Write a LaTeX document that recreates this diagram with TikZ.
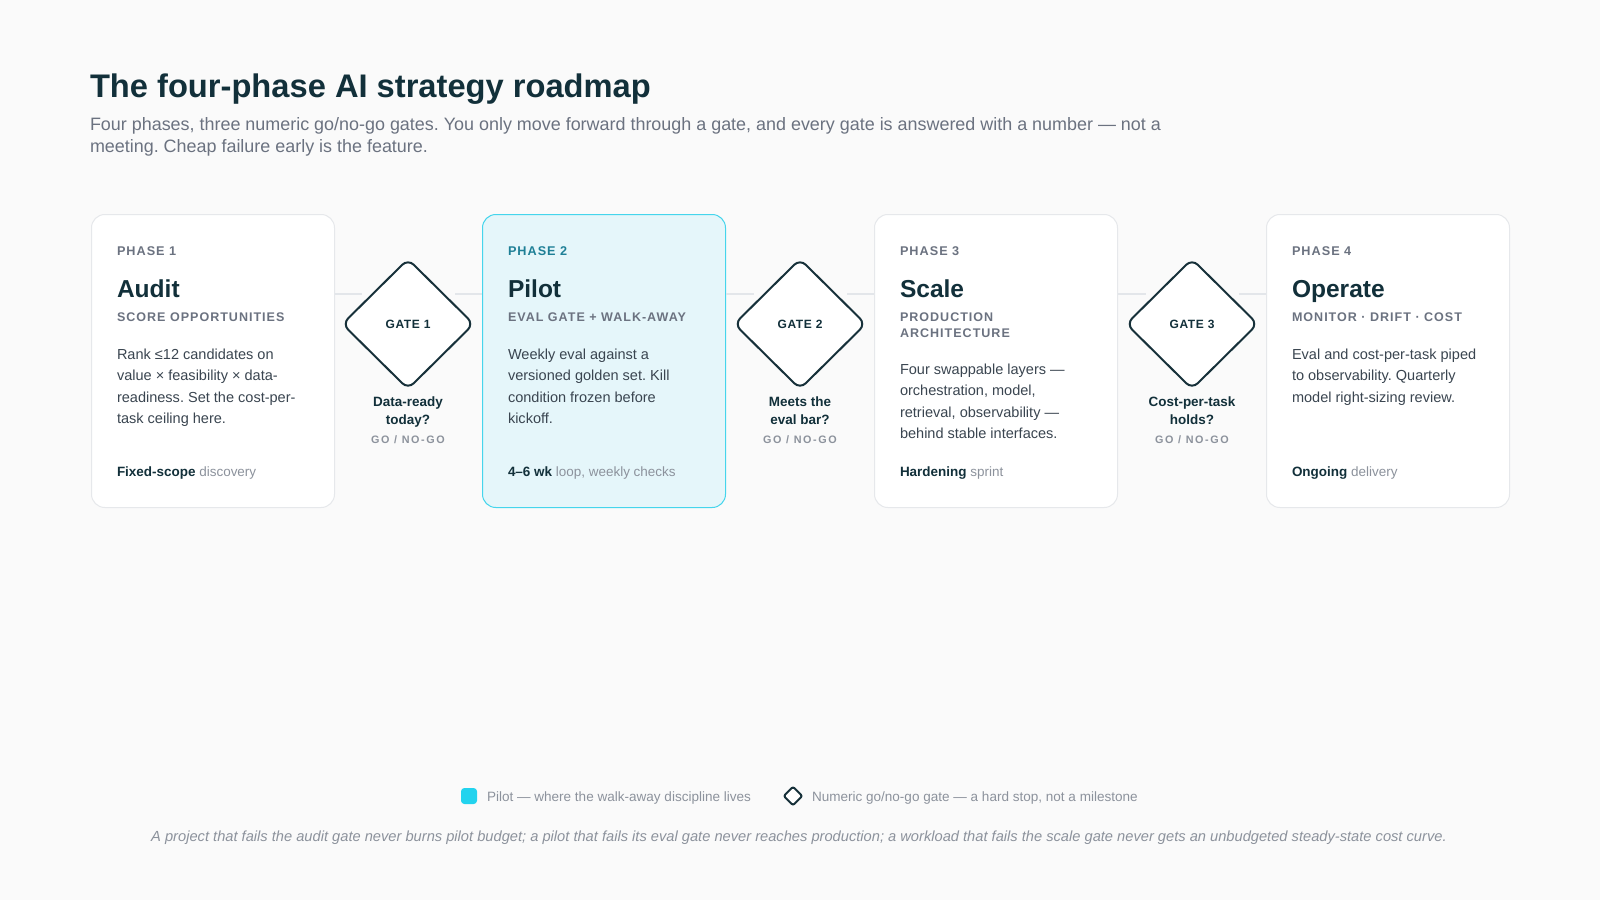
\documentclass[tikz,border=0pt]{standalone}
\usepackage{fontspec}
\setmainfont{Liberation Sans}
\newfontfamily\spacedfont[LetterSpace=8]{Liberation Sans}
\newfontfamily\widefont[LetterSpace=15]{Liberation Sans}
\newfontfamily\gatefont[LetterSpace=5]{Liberation Sans}
\usetikzlibrary{shapes.geometric}
\definecolor{bgc}{HTML}{FAFAFA}
\definecolor{ink}{HTML}{12303A}
\definecolor{bodyc}{HTML}{3A4550}
\definecolor{labelc}{HTML}{6B7280}
\definecolor{softc}{HTML}{8C929C}
\definecolor{tealc}{HTML}{1E7F96}
\definecolor{cardline}{HTML}{E6E8EB}
\definecolor{pilotfill}{HTML}{E5F6FA}
\definecolor{pilotline}{HTML}{45D5EC}
\definecolor{cyanc}{HTML}{22D3EE}
\definecolor{connc}{HTML}{E3E6EA}
\definecolor{gatec}{HTML}{17313A}
\newcommand\fsz[1]{\fontsize{#1}{#1}\selectfont}
\frenchspacing
\begin{document}
\frenchspacing
\begin{tikzpicture}[x=0.75pt,y=-0.75pt,
  card/.style={draw=cardline, line width=0.75pt, fill=white, rounded corners=10pt,
    minimum width=182.25pt, minimum height=219.75pt, anchor=north west, inner sep=0pt},
  pilotcard/.style={card, draw=pilotline, fill=pilotfill},
  txt/.style={anchor=base west, inner sep=0pt, outer sep=0pt},
  plabel/.style={txt, font=\spacedfont\bfseries\fsz{9.5pt}, text=labelc},
  ptitle/.style={txt, font=\bfseries\fsz{18.4pt}, text=ink},
  psub/.style={txt, font=\spacedfont\bfseries\fsz{9.4pt}, text=labelc},
  pbody/.style={txt, font=\fsz{10.9pt}, text=bodyc},
  pfoot/.style={txt, font=\fsz{10.1pt}, text=softc},
  gate/.style={diamond, draw=gatec, line width=1.5pt, fill=white, rounded corners=6pt,
    minimum width=99pt, minimum height=98pt, inner sep=0pt,
    font=\gatefont\bfseries\fsz{9pt}, text=ink},
  gq/.style={anchor=base, inner sep=0pt, font=\bfseries\fsz{10.1pt}, text=ink},
  gng/.style={anchor=base, inner sep=0pt, font=\widefont\bfseries\fsz{8.1pt}, text=softc},
  conn/.style={draw=connc, line width=1.5pt},
  legtxt/.style={txt, font=\fsz{10.15pt}, text=softc}
]
\useasboundingbox (0,0) rectangle (1600,900);
\fill[bgc] (0,0) rectangle (1600,900);

% title
\node[txt, font=\bfseries\fsz{24.5pt}, text=ink] (title) at (90,97) {The four-phase AI strategy roadmap};
\node[txt, font=\fsz{13.45pt}, text=labelc] (sub1) at (90,130) {Four phases, three numeric go/no-go gates. You only move forward through a gate, and every gate is answered with a number — not a};
\node[txt, font=\fsz{13.45pt}, text=labelc] (sub2) at (90,152) {meeting. Cheap failure early is the feature.};

% cards
\node[card] (c1) at (91,214) {};
\node[pilotcard] (c2) at (482,214) {};
\node[card] (c3) at (874,214) {};
\node[card] (c4) at (1266,214) {};

% gates
\node[gate] (g1) at (408,324) {GATE 1};
\node[gate] (g2) at (800,324) {GATE 2};
\node[gate] (g3) at (1192,324) {GATE 3};

% connectors
\coordinate (g1l) at (362,294); \coordinate (g1r) at (455,294);
\coordinate (g2l) at (754,294); \coordinate (g2r) at (847,294);
\coordinate (g3l) at (1146,294); \coordinate (g3r) at (1239,294);
\draw[conn] (c1.east |- g1l) -- (g1l);
\draw[conn] (g1r) -- (g1r -| c2.west);
\draw[conn] (c2.east |- g2l) -- (g2l);
\draw[conn] (g2r) -- (g2r -| c3.west);
\draw[conn] (c3.east |- g3l) -- (g3l);
\draw[conn] (g3r) -- (g3r -| c4.west);

% card 1
\node[plabel] (p1l) at (117,255.6) {PHASE 1};
\node[ptitle] (p1t) at (117,297) {Audit};
\node[psub] (p1s) at (117,321) {SCORE OPPORTUNITIES};
\node[pbody] (p1b1) at (117,359) {Rank ≤12 candidates on};
\node[pbody] (p1b2) at (117,380.5) {value × feasibility × data-};
\node[pbody] (p1b3) at (117,402) {readiness. Set the cost-per-};
\node[pbody] (p1b4) at (117,423.5) {task ceiling here.};
\node[pfoot] (p1f) at (117,476) {\textcolor{ink}{\bfseries Fixed-scope} discovery};

% card 2
\node[plabel, text=tealc] (p2l) at (508,255.6) {PHASE 2};
\node[ptitle] (p2t) at (508,297) {Pilot};
\node[psub] (p2s) at (508,321) {EVAL GATE + WALK-AWAY};
\node[pbody] (p2b1) at (508,359) {Weekly eval against a};
\node[pbody] (p2b2) at (508,380.5) {versioned golden set. Kill};
\node[pbody] (p2b3) at (508,402) {condition frozen before};
\node[pbody] (p2b4) at (508,423.5) {kickoff.};
\node[pfoot] (p2f) at (508,476) {\textcolor{ink}{\bfseries 4–6 wk} loop, weekly checks};

% card 3
\node[plabel] (p3l) at (900,255.6) {PHASE 3};
\node[ptitle] (p3t) at (900,297) {Scale};
\node[psub] (p3s1) at (900,321) {PRODUCTION};
\node[psub] (p3s2) at (900,337) {ARCHITECTURE};
\node[pbody] (p3b1) at (900,374) {Four swappable layers —};
\node[pbody] (p3b2) at (900,395.5) {orchestration, model,};
\node[pbody] (p3b3) at (900,417) {retrieval, observability —};
\node[pbody] (p3b4) at (900,438.5) {behind stable interfaces.};
\node[pfoot] (p3f) at (900,476) {\textcolor{ink}{\bfseries Hardening} sprint};

% card 4
\node[plabel] (p4l) at (1292,255.6) {PHASE 4};
\node[ptitle] (p4t) at (1292,297) {Operate};
\node[psub] (p4s) at (1292,321) {MONITOR · DRIFT · COST};
\node[pbody] (p4b1) at (1292,359) {Eval and cost-per-task piped};
\node[pbody] (p4b2) at (1292,380.5) {to observability. Quarterly};
\node[pbody] (p4b3) at (1292,402) {model right-sizing review.};
\node[pfoot] (p4f) at (1292,476) {\textcolor{ink}{\bfseries Ongoing} delivery};

% gate questions
\node[gq] (q1a) at (408,406) {Data-ready};
\node[gq] (q1b) at (408,424) {today?};
\node[gng] (n1) at (408,443) {GO / NO-GO};
\node[gq] (q2a) at (800,406) {Meets the};
\node[gq] (q2b) at (800,424) {eval bar?};
\node[gng] (n2) at (800,443) {GO / NO-GO};
\node[gq] (q3a) at (1192,406) {Cost-per-task};
\node[gq] (q3b) at (1192,424) {holds?};
\node[gng] (n3) at (1192,443) {GO / NO-GO};

% legend
\node[fill=cyanc, rounded corners=2.5pt, minimum size=12pt, inner sep=0pt] (legsq) at (469,796) {};
\node[legtxt] (legt1) at (487,801) {Pilot — where the walk-away discipline lives};
\node[diamond, draw=gatec, line width=1.5pt, fill=white, rounded corners=1.5pt, minimum width=14.5pt, minimum height=14.5pt, inner sep=0pt] (legd) at (793,796) {};
\node[legtxt] (legt2) at (812,801) {Numeric go/no-go gate — a hard stop, not a milestone};

% footnote
\node[anchor=base, inner sep=0pt, font=\itshape\fsz{11.0pt}, text=softc] (foot) at (799,841) {A project that fails the audit gate never burns pilot budget; a pilot that fails its eval gate never reaches production; a workload that fails the scale gate never gets an unbudgeted steady-state cost curve.};
\end{tikzpicture}
\end{document}
